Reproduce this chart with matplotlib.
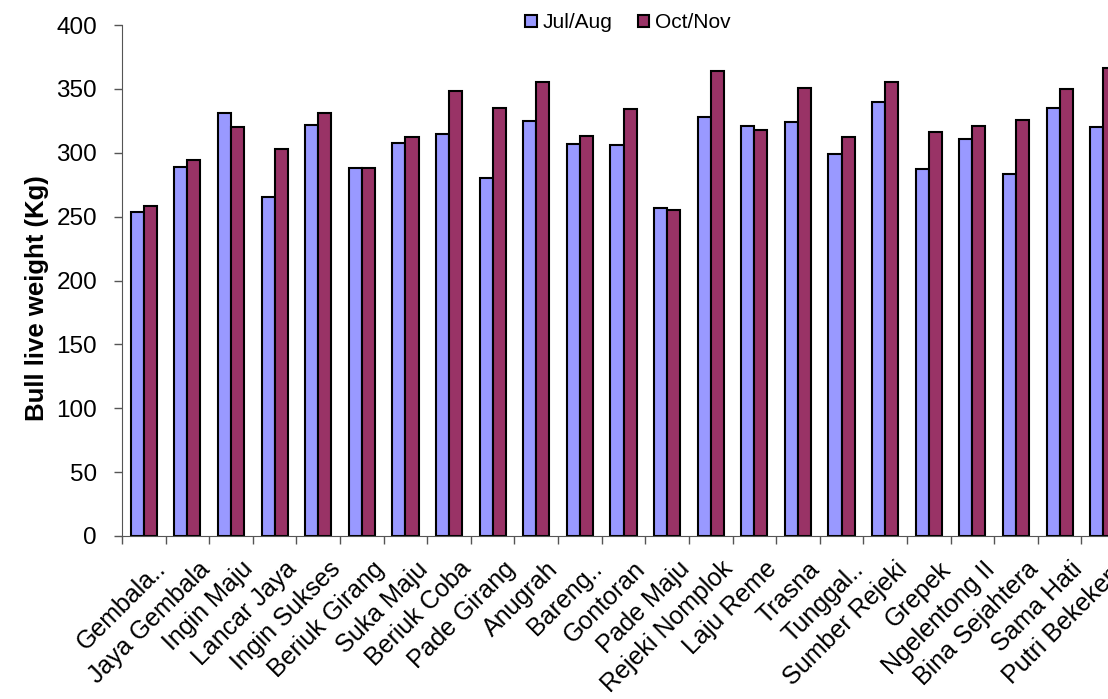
import matplotlib.pyplot as plt
import matplotlib.transforms as mtransforms
import numpy as np
from matplotlib.patches import Patch

plt.rcParams['font.family'] = ['Liberation Sans', 'DejaVu Sans']

groups = ['Gembala..', 'Jaya Gembala', 'Ingin Maju', 'Lancar Jaya', 'Ingin Sukses',
          'Beriuk Girang', 'Suka Maju', 'Beriuk Coba', 'Pade Girang', 'Anugrah',
          'Bareng..', 'Gontoran', 'Pade Maju', 'Rejeki Nomplok', 'Laju Reme',
          'Trasna', 'Tunggal..', 'Sumber Rejeki', 'Grepek', 'Ngelentong II',
          'Bina Sejahtera', 'Sama Hati', 'Putri Bekekem']
jul_aug = [254, 289, 331, 265, 322, 288, 308, 315, 280, 325, 307, 306,
           257, 328, 321, 324, 299, 340, 287, 311, 283, 335, 320]
oct_nov = [258, 294, 320, 303, 331, 288, 312, 348, 335, 355, 313, 334,
           255, 364, 318, 351, 312, 355, 316, 321, 326, 350, 366]

fig = plt.figure(figsize=(11.08, 6.99), dpi=100)
# axes run a bit past the right edge, like the cropped original
ax = fig.add_axes([122/1108, 163/699, 1003/1108, 511/699])

x = np.arange(len(groups))
w = 0.3
ax.bar(x - w/2, jul_aug, w, color='#9999FF', edgecolor='black', linewidth=1.5, label='Jul/Aug')
ax.bar(x + w/2, oct_nov, w, color='#993366', edgecolor='black', linewidth=1.5, label='Oct/Nov')

ax.set_xlim(-0.5, len(groups) - 0.5)
ax.set_ylim(0, 400)
ax.set_yticks(np.arange(0, 401, 50))
ax.tick_params(axis='y', labelsize=17.5, length=6, width=1, color='#555555', pad=12)
ax.set_ylabel('Bull live weight (Kg)', fontsize=18.5, fontweight='bold')
ax.yaxis.set_label_coords(-0.073, 0.466)

ax.set_xticks(np.arange(len(groups) + 1) - 0.5, minor=False)
ax.set_xticklabels([''] * (len(groups) + 1))
ax.tick_params(axis='x', length=6, width=1, color='#555555')
ax.set_xticks(x, minor=True)
ax.set_xticklabels(groups, minor=True, rotation=45, ha='right', rotation_mode='anchor', fontsize=18)
ax.tick_params(axis='x', which='minor', length=0, pad=15)
shift = mtransforms.ScaledTranslation(10/100, 0, fig.dpi_scale_trans)
for lab in ax.get_xticklabels(minor=True):
    lab.set_transform(lab.get_transform() + shift)

for s in ['top', 'right']:
    ax.spines[s].set_visible(False)
ax.spines['left'].set_color('#555555')
ax.spines['bottom'].set_color('#555555')

handles = [Patch(facecolor='#9999FF', edgecolor='black', linewidth=1.5, label='Jul/Aug'),
           Patch(facecolor='#993366', edgecolor='black', linewidth=1.5, label='Oct/Nov')]
fig.legend(handles=handles, loc='center', bbox_to_anchor=(628/1108, 1 - 23/699), ncol=2,
           frameon=False, fontsize=15, handlelength=0.55, handleheight=0.55,
           handletextpad=0.3, columnspacing=1.2)

plt.savefig('out.png', dpi=100)
